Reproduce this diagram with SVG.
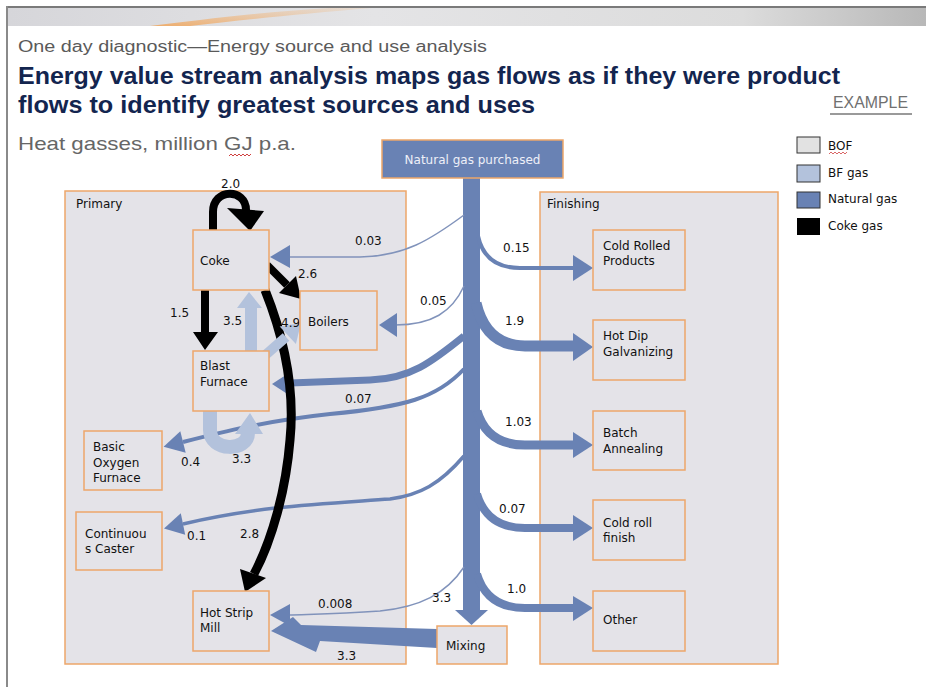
<svg xmlns="http://www.w3.org/2000/svg" width="926" height="687" viewBox="0 0 926 687">
<defs>
<linearGradient id="banner" x1="0" y1="0" x2="1" y2="0">
<stop offset="0" stop-color="#d6d6da"/>
<stop offset="0.4" stop-color="#e4e4e6"/>
<stop offset="0.8" stop-color="#dcdcdc"/>
<stop offset="1" stop-color="#b8b8b8"/>
</linearGradient>
<linearGradient id="swoosh" x1="0" y1="1" x2="1" y2="0">
<stop offset="0" stop-color="#f0a860" stop-opacity="0.9"/>
<stop offset="1" stop-color="#f0c090" stop-opacity="0.2"/>
</linearGradient>
</defs>
<style>
.t{font-family:"DejaVu Sans","Liberation Sans",sans-serif;font-size:12px;fill:#111}
.box{fill:#e4e3e8;stroke:#eda66a;stroke-width:1.5}
.grp{fill:#e4e3e8;stroke:#eda66a;stroke-width:1.5}
.ng{fill:none;stroke:#6982b4}
.ngf{fill:#6982b4}
.thin{fill:none;stroke:#8193bb;stroke-width:1.5}
.bf{fill:none;stroke:#b3c2dc}
.bff{fill:#b3c2dc}
.ck{fill:none;stroke:#000}
.ckf{fill:#000}
.hd{font-family:"Liberation Sans",Arial,sans-serif}
</style>
<rect x="0" y="0" width="926" height="687" fill="#fff"/>
<!-- banner -->
<rect x="8" y="8" width="918" height="18" fill="url(#banner)"/>
<path d="M150 26 C200 20 260 12 330 8 L372 8 C300 14 240 20 190 26 Z" fill="url(#swoosh)"/>
<line x1="6" y1="7" x2="926" y2="7" stroke="#7a7a7a" stroke-width="2"/>
<line x1="7" y1="6" x2="7" y2="687" stroke="#8a8a8a" stroke-width="2"/>
<!-- titles -->
<text class="hd" x="18" y="52" font-size="16" fill="#5a5a5a" textLength="469" lengthAdjust="spacingAndGlyphs">One day diagnostic—Energy source and use analysis</text>
<text class="hd" x="18" y="84" font-size="24" font-weight="bold" fill="#13254f" textLength="822" lengthAdjust="spacingAndGlyphs">Energy value stream analysis maps gas flows as if they were product</text>
<text class="hd" x="18" y="113" font-size="24" font-weight="bold" fill="#13254f" textLength="517" lengthAdjust="spacingAndGlyphs">flows to identify greatest sources and uses</text>
<text class="hd" x="833" y="108" font-size="17" fill="#707070" textLength="75" lengthAdjust="spacingAndGlyphs">EXAMPLE</text>
<line x1="830" y1="114" x2="912" y2="114" stroke="#9a9a9a" stroke-width="2"/>
<text class="hd" x="18" y="150" font-size="19" fill="#666" textLength="278" lengthAdjust="spacingAndGlyphs">Heat gasses, million GJ p.a.</text>
<polyline points="229,156 231,154 233,156 235,154 237,156 239,154 241,156 243,154 245,156 247,154 249,156 251,154" fill="none" stroke="#d04040" stroke-width="1"/>
<!-- legend -->
<g id="legend">
<rect x="797" y="137" width="23" height="16" fill="#e2e2e2" stroke="#333" stroke-width="1"/>
<text class="t" x="828" y="150">BOF</text>
<polyline points="829,154 831,152 833,154 835,152 837,154 839,152 841,154 843,152 845,154 847,152" fill="none" stroke="#d04040" stroke-width="0.8"/>
<rect x="797" y="165" width="23" height="17" fill="#b3c2dc" stroke="#333" stroke-width="1"/>
<text class="t" x="828" y="177">BF gas</text>
<rect x="797" y="192" width="23" height="16" fill="#6982b4" stroke="#333" stroke-width="1"/>
<text class="t" x="828" y="203">Natural gas</text>
<rect x="797" y="218" width="23" height="17" fill="#000"/>
<text class="t" x="828" y="230">Coke gas</text>
</g>
<!-- group boxes -->
<g id="primary">
<rect class="grp" x="65" y="191" width="341" height="473"/>
<text class="t" x="76" y="208">Primary</text>
</g>
<g id="finishing">
<rect class="grp" x="540" y="192" width="238" height="472"/>
<text class="t" x="547" y="208">Finishing</text>
</g>
<!-- connectors -->
<g id="connectors">
<!-- natural gas trunk -->
<rect class="ngf" x="463" y="177" width="17" height="434"/>
<polygon class="ngf" points="455,610 488,610 471.5,625"/>
<!-- right branches -->
<path class="ng" stroke-width="4" d="M478 236 Q485 268 520 268 L575 268"/>
<polygon class="ngf" points="573,255 593,268 573,281"/>
<path class="ng" stroke-width="11" d="M476 303 Q486 346 525 346 L575 346"/>
<polygon class="ngf" points="573,333 593,347 573,361"/>
<path class="ng" stroke-width="9" d="M477 411 Q487 445 525 445 L575 445"/>
<polygon class="ngf" points="573,432 593,445 573,458"/>
<path class="ng" stroke-width="8" d="M477 494 Q487 528 525 528 L575 528"/>
<polygon class="ngf" points="573,515 593,528 573,541"/>
<path class="ng" stroke-width="8" d="M477 574 Q487 608 525 608 L575 608"/>
<polygon class="ngf" points="573,596 593,608 573,621"/>
<!-- left branches -->
<path class="thin" d="M464 215 C430 240 405 256 360 257 L288 257"/>
<polygon class="ngf" points="290,245 270,257 290,268"/>
<path class="thin" d="M464 286 C452 312 432 325 395 325"/>
<polygon class="ngf" points="397,313 379,325 397,337"/>
<path class="ng" stroke-width="7" d="M464 336 C432 362 410 379 370 380 L290 383"/>
<polygon class="ngf" points="292,371 272,384 292,397"/>
<path class="ng" stroke-width="4" d="M464 369 C437 398 405 407 330 414 C265 421 222 432 183 442"/>
<polygon class="ngf" points="180.3,431.3 163.6,446.8 185.7,452.7"/>
<path class="ng" stroke-width="3.5" d="M464 456 C440 484 420 495 390 499 C320 504 260 506 183 524"/>
<polygon class="ngf" points="180.8,513.2 164,528.5 185.2,534.8"/>
<path class="thin" d="M464 567 C446 594 420 607 380 611 C340 614 320 614 288 615"/>
<polygon class="ngf" points="290,604 270,615 290,626"/>
<!-- mixing to hot strip mill -->
<polygon class="ngf" points="271,631 293,617 301,625 437,629 437,648 320,641 316,652"/>
<!-- coke gas -->
<path class="ck" stroke-width="8" d="M213 231 L213 212 C213 188 246 188 246 210"/>
<polygon class="ckf" points="227,208 264,211 250,231"/>
<polygon class="ckf" points="201,290 209,290 209,332 218,332 205,350 193,332 201,332"/>
<path class="ck" stroke-width="8" d="M267 265 L287 285"/>
<polygon class="ckf" points="279,293 296,276 301,299"/>
<path class="ck" stroke-width="9" d="M265 290 C285 340 295 390 290 440 C286 490 272 540 254 574"/>
<polygon class="ckf" points="240,569 266,578 245,592"/>
<!-- BF gas -->
<polygon class="bff" points="245,351 257,351 257,308 262,308 249,292 237,308 245,308"/>
<path class="bf" stroke-width="10" d="M262 358 L286 337"/>
<polygon class="bff" points="279.7,326.4 301,323 295.9,344"/>
<path class="bf" stroke-width="14" d="M210 411 L210 430 C210 452 248 452 248 433"/>
<polygon class="bff" points="235,434 263,434 250,413"/>
</g>
<!-- flow labels -->
<g id="labels">
<text class="t" x="221" y="188">2.0</text>
<text class="t" x="170" y="317">1.5</text>
<text class="t" x="223" y="325">3.5</text>
<text class="t" x="298" y="278">2.6</text>
<text class="t" x="281" y="327">4.9</text>
<text class="t" x="355" y="245">0.03</text>
<text class="t" x="420" y="305">0.05</text>
<text class="t" x="345" y="403">0.07</text>
<text class="t" x="181" y="466">0.4</text>
<text class="t" x="232" y="463">3.3</text>
<text class="t" x="187" y="540">0.1</text>
<text class="t" x="240" y="538">2.8</text>
<text class="t" x="318" y="608">0.008</text>
<text class="t" x="432" y="602">3.3</text>
<text class="t" x="337" y="660">3.3</text>
<text class="t" x="503" y="252">0.15</text>
<text class="t" x="505" y="325">1.9</text>
<text class="t" x="505" y="426">1.03</text>
<text class="t" x="499" y="513">0.07</text>
<text class="t" x="507" y="593">1.0</text>
</g>
<!-- nodes -->
<g id="natural-gas"><rect x="382" y="140" width="181" height="38" fill="#6982b4" stroke="#eda66a" stroke-width="1.5"/><text class="t" x="472.5" y="164" text-anchor="middle" style="fill:#eef0f8">Natural gas purchased</text></g>
<g id="coke"><rect class="box" x="193" y="230" width="76" height="60"/><text class="t" x="200" y="265">Coke</text></g>
<g id="boilers"><rect class="box" x="300" y="291" width="77" height="59"/><text class="t" x="308" y="326">Boilers</text></g>
<g id="blast-furnace"><rect class="box" x="193" y="351" width="76" height="60"/><text class="t" x="200" y="370">Blast</text><text class="t" x="200" y="386">Furnace</text></g>
<g id="bof"><rect class="box" x="84" y="431" width="78" height="59"/><text class="t" x="93" y="451">Basic</text><text class="t" x="93" y="467">Oxygen</text><text class="t" x="93" y="482">Furnace</text></g>
<g id="caster"><rect class="box" x="76" y="512" width="86" height="58"/><text class="t" x="85" y="538">Continuou</text><text class="t" x="85" y="553">s Caster</text></g>
<g id="hot-strip-mill"><rect class="box" x="193" y="591" width="76" height="60"/><text class="t" x="200" y="617">Hot Strip</text><text class="t" x="200" y="632">Mill</text></g>
<g id="mixing"><rect class="box" x="437" y="626" width="70" height="38"/><text class="t" x="446" y="650">Mixing</text></g>
<g id="cold-rolled"><rect class="box" x="593" y="230" width="92" height="60"/><text class="t" x="603" y="250">Cold Rolled</text><text class="t" x="603" y="265">Products</text></g>
<g id="hot-dip"><rect class="box" x="593" y="320" width="92" height="60"/><text class="t" x="603" y="340">Hot Dip</text><text class="t" x="603" y="356">Galvanizing</text></g>
<g id="batch"><rect class="box" x="593" y="411" width="92" height="59"/><text class="t" x="603" y="437">Batch</text><text class="t" x="603" y="453">Annealing</text></g>
<g id="cold-roll-finish"><rect class="box" x="593" y="500" width="92" height="60"/><text class="t" x="603" y="527">Cold roll</text><text class="t" x="603" y="542">finish</text></g>
<g id="other"><rect class="box" x="593" y="591" width="92" height="60"/><text class="t" x="603" y="624">Other</text></g>
</svg>
